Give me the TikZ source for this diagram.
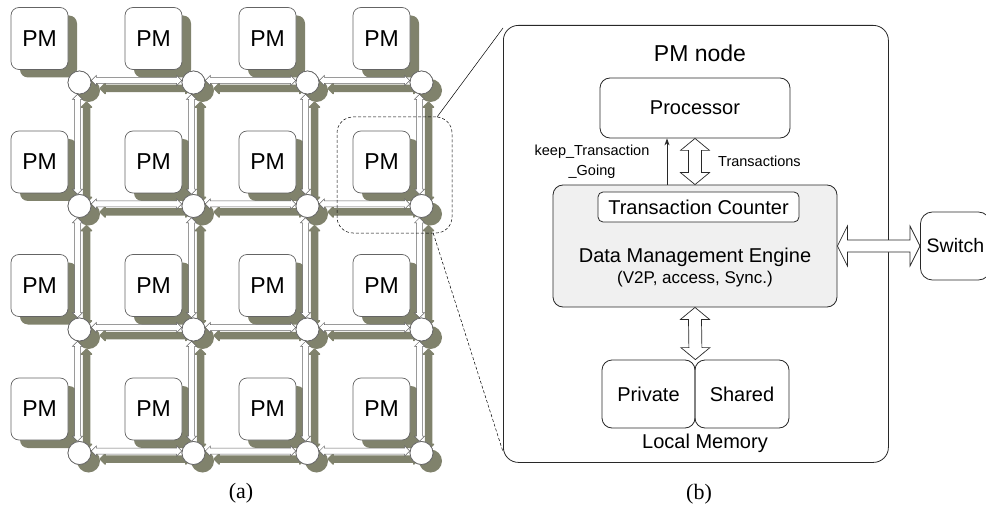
\documentclass[tikz,border=0pt]{standalone}
\usepackage{fontspec}
\setmainfont{Liberation Sans}
\newfontfamily\capfont{Liberation Serif}
\usetikzlibrary{calc,arrows.meta}
\definecolor{shade}{RGB}{128,130,108}
\definecolor{edge}{RGB}{100,100,100}
\definecolor{ink}{RGB}{40,40,40}
\definecolor{dmefill}{RGB}{240,240,240}
% horizontal mesh link between two routers
\newcommand\meshH[3]{\path[#3] ($(#1.east)+(0,-2)$) -- ($(#1.east)+(5,-7)$) -- ($(#1.east)+(5,-5)$) -- ($(#2.west)+(-5,-5)$) -- ($(#2.west)+(-5,-7)$) -- ($(#2.west)+(0,-2)$) -- ($(#2.west)+(-5,3)$) -- ($(#2.west)+(-5,1)$) -- ($(#1.east)+(5,1)$) -- ($(#1.east)+(5,3)$) -- cycle;}
% vertical mesh link between two routers
\newcommand\meshV[3]{\path[#3] ($(#1.south)+(-2,0)$) -- ($(#1.south)+(3,5)$) -- ($(#1.south)+(1,5)$) -- ($(#2.north)+(1,-5)$) -- ($(#2.north)+(3,-5)$) -- ($(#2.north)+(-2,0)$) -- ($(#2.north)+(-7,-5)$) -- ($(#2.north)+(-5,-5)$) -- ($(#1.south)+(-5,5)$) -- ($(#1.south)+(-7,5)$) -- cycle;}
% big hollow double arrows
\newcommand\blockV[2]{\draw[blockarrow] (#1) -- ($(#1)+(14.5,12)$) -- ($(#1)+(6.5,12)$) -- ($(#2)+(6.5,-12)$) -- ($(#2)+(14.5,-12)$) -- (#2) -- ($(#2)+(-14.5,-12)$) -- ($(#2)+(-6.5,-12)$) -- ($(#1)+(-6.5,12)$) -- ($(#1)+(-14.5,12)$) -- cycle;}
\newcommand\blockH[2]{\draw[blockarrow] (#1) -- ($(#1)+(10,-20)$) -- ($(#1)+(10,-6)$) -- ($(#2)+(-10,-6)$) -- ($(#2)+(-10,-20)$) -- (#2) -- ($(#2)+(-10,20)$) -- ($(#2)+(-10,6)$) -- ($(#1)+(10,6)$) -- ($(#1)+(10,20)$) -- cycle;}
\begin{document}
\begin{tikzpicture}[x=1pt,y=-1pt,
  pmbox/.style={draw=edge, line width=0.7pt, fill=white, rounded corners=8pt, minimum width=57pt, minimum height=62pt, inner sep=0pt, font=\fontsize{23}{23}\selectfont},
  pmshade/.style={fill=shade, rounded corners=8pt, minimum width=57pt, minimum height=62pt, inner sep=0pt},
  router/.style={circle, draw=edge, line width=0.7pt, fill=white, minimum size=23pt, inner sep=0pt},
  routershade/.style={circle, fill=shade, minimum size=23pt, inner sep=0pt},
  linkw/.style={fill=white, draw=edge, line width=0.5pt},
  links/.style={fill=shade, draw=shade, line width=1.5pt, line join=round},
  boxr/.style={draw=ink, line width=0.8pt, rounded corners=10pt, inner sep=0pt},
  blockarrow/.style={draw=ink, line width=0.7pt, fill=white},
  txt/.style={font=\fontsize{20}{24}\selectfont, inner sep=0pt},
  small/.style={font=\fontsize{14.5}{20}\selectfont, inner sep=0pt, align=center},
  caption/.style={font=\capfont\fontsize{22}{24}\selectfont, inner sep=0pt}
]
\useasboundingbox (0,0) rectangle (986,508);

% ---------- (a) mesh: shadows ----------
\foreach \i in {0,...,3}{\foreach \j in {0,...,3}{
  \node[pmshade] (spm-\i-\j) at ({39.5+114*\i+9},{38.5+123.5*\j+8}) {};
  \node[routershade] (sr-\i-\j) at ({79.5+114*\i+9},{82.5+123.5*\j+8}) {};
}}
\foreach \i [evaluate=\i as \ii using int(\i+1)] in {0,1,2}{\foreach \j in {0,...,3}{
  \meshH{sr-\i-\j}{sr-\ii-\j}{links}
  \meshV{sr-\j-\i}{sr-\j-\ii}{links}
}}
% ---------- (a) mesh: objects ----------
\foreach \i in {0,...,3}{\foreach \j in {0,...,3}{
  \node[pmbox] (pm-\i-\j) at ({39.5+114*\i},{38.5+123.5*\j}) {PM};
  \node[router] (r-\i-\j) at ({79.5+114*\i},{82.5+123.5*\j}) {};
}}
\foreach \i [evaluate=\i as \ii using int(\i+1)] in {0,1,2}{\foreach \j in {0,...,3}{
  \meshH{r-\i-\j}{r-\ii-\j}{linkw}
  \meshV{r-\j-\i}{r-\j-\ii}{linkw}
}}
\foreach \i in {0,...,3}{\foreach \j in {0,...,3}{
  \node[router] at (r-\i-\j) {};
}}

% zoom box
\node[draw=black, densely dashed, line width=0.5pt, rounded corners=16pt, minimum width=115pt, minimum height=116pt, inner sep=0pt] (zoombox) at (394.5,175) {};

% ---------- (b) PM node ----------
\node[draw=ink, line width=0.8pt, rounded corners=15pt, minimum width=385pt, minimum height=437pt, inner sep=0pt, anchor=north west] (pmnode) at (503,25) {};
\coordinate (za) at ($(zoombox.north east)+(-15,0)$);
\coordinate (zb) at ($(pmnode.north west)+(0,3)$);
\coordinate (zc) at ($(zoombox.south east)+(-19,0)$);
\coordinate (zd) at ($(pmnode.south west)+(0,-11)$);
\draw[black, line width=0.5pt] (za) -- (zb);
\draw[black, line width=0.5pt, densely dashed] (zc) -- (zd);

\node[font=\fontsize{23}{23}\selectfont, inner sep=0pt] (title) at (700,53) {PM node};
\node[boxr, minimum width=190pt, minimum height=60pt, txt] (proc) at (695,108) {Processor};
\node[boxr, fill=dmefill, minimum width=284pt, minimum height=122pt] (dme) at (695,246) {};
\node[boxr, fill=white, rounded corners=5pt, minimum width=201pt, minimum height=30pt, txt] (tc) at (698.5,207) {Transaction Counter};
\node[txt] (dmetext) at (695,257) {Data Management Engine};
\node[font=\fontsize{17}{20}\selectfont, inner sep=0pt] (dmesub) at (695,279) {(V2P, access, Sync.)};
\node[boxr, rounded corners=12pt, minimum width=70pt, minimum height=68pt, anchor=west, font=\fontsize{19.5}{24}\selectfont] (switch) at (920,246) {Switch};
\node[boxr, minimum width=93pt, minimum height=68pt, txt] (priv) at (648.5,394) {Private};
\node[boxr, minimum width=94pt, minimum height=68pt, txt] (shared) at (742,394) {Shared};
\node[txt] (lm) at (705,443) {Local Memory};

% connectors
\coordinate (kx) at (667,0);
\draw[ink, line width=0.8pt, -{Stealth[length=7pt,width=5pt]}] (kx |- dme.north) -- (kx |- proc.south);
\node[small] (keep) at (592,162) {keep\_Transaction\\\_Going};
\blockV{proc.south}{dme.north}
\node[small, anchor=west] (trans) at (718,161) {Transactions};
\blockH{dme.east}{switch.west}
\blockV{dme.south}{priv.north east}

% captions
\node[caption] (capa) at (241,493) {(a)};
\node[caption] (capb) at (699,494) {(b)};
\end{tikzpicture}
\end{document}
